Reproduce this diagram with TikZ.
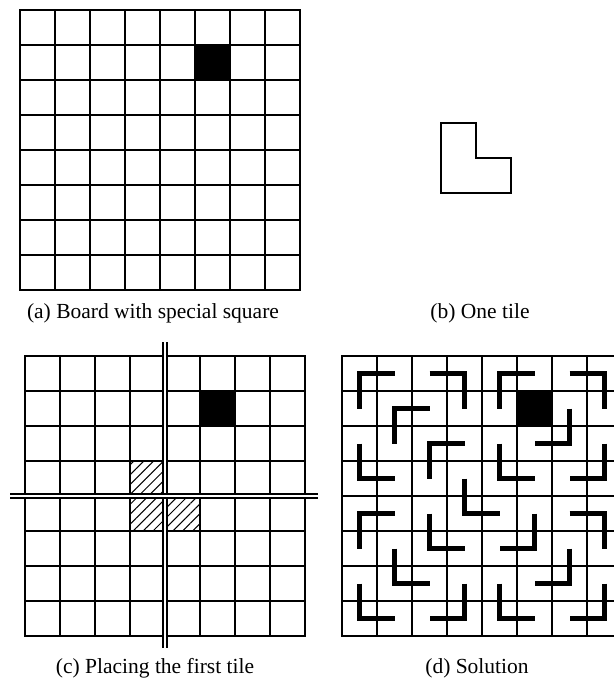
\documentclass[tikz,border=0pt]{standalone}
\usepackage{fontspec}
\setmainfont{Liberation Serif}
\usetikzlibrary{patterns.meta}

\tikzset{
	gridline/.style={line width=2pt, line cap=rect},
	tilestroke/.style={line width=4.5pt, line join=miter},
	divider/.style={double, double distance=2pt, line width=1.8pt},
	hatch/.style={pattern={Lines[angle=45,distance=7pt,line width=1pt]}},
	caption/.style={font=\fontsize{21.5}{24}\selectfont, anchor=base, inner sep=0pt}
}

% 8x8 board, cell size 35
\newcommand{\boardgrid}{%
	\foreach \k in {0,...,8} {
		\draw[gridline] (35*\k,0) -- (35*\k,280);
		\draw[gridline] (0,35*\k) -- (280,35*\k);
	}
}

\begin{document}
\begin{tikzpicture}[x=1pt, y=-1pt]
	\useasboundingbox (0,0) rectangle (613,684);
	
	% (a) board with the special square
	\begin{scope}[shift={(20,10)}]
		\fill (35*5,35*1) rectangle ++(35,35);
		\boardgrid
	\end{scope}
	\node[caption] (capa) at (153,318) {(a) Board with special square};
	
	% (b) one tile
	\draw[line width=2pt] (441,123) -- (476,123) -- (476,158) -- (511,158) -- (511,193) -- (441,193) -- cycle;
	\node[caption] (capb) at (480,318) {(b) One tile};
	
	% (c) first tile in the centre
	\begin{scope}[shift={(25,356)}]
		\fill (35*5,35*1) rectangle ++(35,35);
		\foreach \r/\c in {3/3, 4/3, 4/4}
			\fill[hatch] (35*\c,35*\r) rectangle ++(35,35);
		\boardgrid
		\coordinate (vt) at (140,-14);
		\coordinate (vb) at (140,292);
		\coordinate (hl) at (-15,140);
		\coordinate (hr) at (293,140);
		\draw[divider] (vt) -- (vb);
		\draw[divider] (hl) -- (hr);
	\end{scope}
	\node[caption] (capc) at (155,673) {(c) Placing the first tile};
	
	% (d) solution, arm / corner / arm as row-col
	\begin{scope}[shift={(342,356)}]
		\fill (35*5,35*1) rectangle ++(35,35);
		\boardgrid
		\foreach \ra/\ca/\rb/\cb/\rc/\cc in {
			0/1/0/0/1/0, 0/2/0/3/1/3, 0/5/0/4/1/4, 0/6/0/7/1/7,
			1/2/1/1/2/1, 1/6/2/6/2/5,
			2/0/3/0/3/1, 2/3/2/2/3/2, 2/4/3/4/3/5, 2/7/3/7/3/6,
			3/3/4/3/4/4,
			4/1/4/0/5/0, 4/2/5/2/5/3, 4/5/5/5/5/4, 4/6/4/7/5/7,
			5/1/6/1/6/2, 5/6/6/6/6/5,
			6/0/7/0/7/1, 6/3/7/3/7/2, 6/4/7/4/7/5, 6/7/7/7/7/6}
			\draw[tilestroke] (35*\ca+17.5,35*\ra+17.5) -- (35*\cb+17.5,35*\rb+17.5) -- (35*\cc+17.5,35*\rc+17.5);
	\end{scope}
	\node[caption] (capd) at (477,673) {(d) Solution};
\end{tikzpicture}
\end{document}
